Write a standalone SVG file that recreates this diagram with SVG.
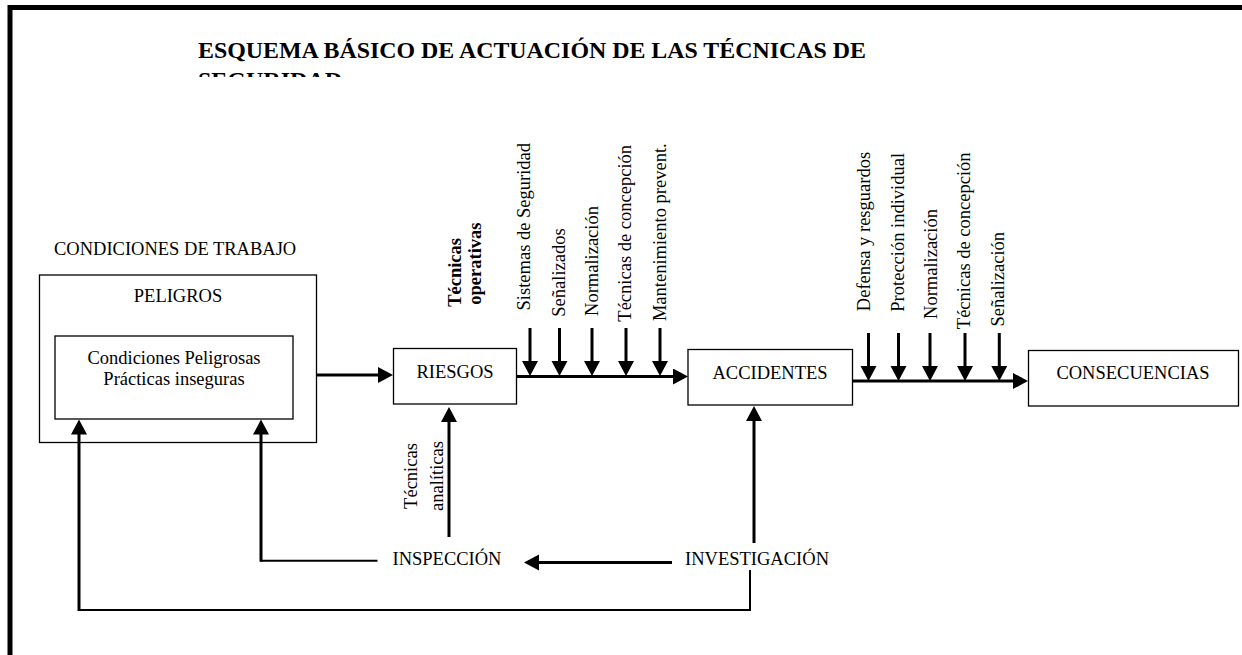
<svg xmlns="http://www.w3.org/2000/svg" width="1242" height="655" viewBox="0 0 1242 655">
<style>
text{font-family:"Liberation Serif","Times New Roman",serif;font-size:18.5px;fill:#000}
.title{font-size:24px;font-weight:bold}
.b{font-weight:bold}
.box{fill:#fff;stroke:#000;stroke-width:1.3}
.thick{stroke:#000;stroke-width:3;fill:none}
.thin{stroke:#000;stroke-width:2;fill:none}
.mid{text-anchor:middle}
</style>
<defs>
<marker id="ah" markerUnits="userSpaceOnUse" markerWidth="16" markerHeight="17" refX="10" refY="8" orient="auto">
<path d="M0,0 L15,8 L0,16 z" fill="#000"/>
</marker>
<clipPath id="tclip"><rect x="0" y="0" width="1242" height="77"/></clipPath>
</defs>
<rect width="1242" height="655" fill="#fff"/>
<path d="M10 655 V7.5 H1242" fill="none" stroke="#000" stroke-width="5"/>

<g id="title" clip-path="url(#tclip)">
<text class="title" x="198" y="58" textLength="668" lengthAdjust="spacingAndGlyphs">ESQUEMA BÁSICO DE ACTUACIÓN DE LAS TÉCNICAS DE</text>
<text class="title" x="198" y="88">SEGURIDAD</text>
</g>

<g id="condiciones">
<text x="54" y="255">CONDICIONES DE TRABAJO</text>
</g>
<g id="peligros">
<rect class="box" x="39.5" y="275" width="277" height="167.5"/>
<text class="mid" x="178" y="302">PELIGROS</text>
</g>
<g id="condiciones-peligrosas">
<rect class="box" x="55" y="336" width="238" height="83"/>
<text class="mid" x="174" y="363.5">Condiciones Peligrosas</text>
<text class="mid" x="174" y="384.5">Prácticas inseguras</text>
</g>
<g id="riesgos">
<rect class="box" x="393.5" y="348.5" width="123" height="55.5"/>
<text class="mid" x="455" y="377.5">RIESGOS</text>
</g>
<g id="accidentes">
<rect class="box" x="688" y="349.5" width="164.5" height="55.5"/>
<text class="mid" x="770" y="378.5">ACCIDENTES</text>
</g>
<g id="consecuencias">
<rect class="box" x="1028.5" y="350.5" width="210" height="55.5"/>
<text class="mid" x="1133" y="378.5">CONSECUENCIAS</text>
</g>
<g id="inspeccion">
<text x="392.5" y="565">INSPECCIÓN</text>
</g>
<g id="investigacion">
<text x="685" y="565" textLength="144" lengthAdjust="spacingAndGlyphs">INVESTIGACIÓN</text>
</g>

<g id="tecnicas-operativas">
<text class="b" text-anchor="end" transform="translate(460.5,238) rotate(-90)">Técnicas</text>
<text class="b" text-anchor="end" transform="translate(481,222.5) rotate(-90)">operativas</text>
</g>
<g id="tecnicas-analiticas">
<text class="mid" transform="translate(417,476) rotate(-90)">Técnicas</text>
<text class="mid" transform="translate(443,476) rotate(-90)">analíticas</text>
</g>
<g id="labels-riesgos">
<text class="mid" transform="translate(530.3,226.7) rotate(-90)">Sistemas de Seguridad</text>
<text class="mid" transform="translate(565.3,272.5) rotate(-90)">Señalizados</text>
<text class="mid" transform="translate(598,261) rotate(-90)">Normalización</text>
<text class="mid" transform="translate(631.3,233.3) rotate(-90)">Técnicas de concepción</text>
<text class="mid" transform="translate(666,232.2) rotate(-90)">Mantenimiento prevent.</text>
</g>
<g id="labels-accidentes">
<text class="mid" transform="translate(870.3,231.5) rotate(-90)">Defensa  y resguardos</text>
<text class="mid" transform="translate(903.7,232.3) rotate(-90)">Protección individual</text>
<text class="mid" transform="translate(937,264) rotate(-90)">Normalización</text>
<text class="mid" transform="translate(970.3,240.8) rotate(-90)">Técnicas de concepción</text>
<text class="mid" transform="translate(1003.7,279.2) rotate(-90)">Señalización</text>
</g>

<g id="connectors">
<line class="thick" x1="316.7" y1="375" x2="388" y2="375" marker-end="url(#ah)"/>
<line class="thick" x1="517" y1="376.5" x2="683" y2="376.5" marker-end="url(#ah)"/>
<line class="thick" x1="853" y1="381" x2="1023" y2="381" marker-end="url(#ah)"/>
<line class="thick" x1="530" y1="328" x2="530" y2="371" marker-end="url(#ah)"/>
<line class="thick" x1="559.5" y1="328" x2="559.5" y2="371" marker-end="url(#ah)"/>
<line class="thick" x1="592" y1="328" x2="592" y2="371" marker-end="url(#ah)"/>
<line class="thick" x1="626" y1="328" x2="626" y2="371" marker-end="url(#ah)"/>
<line class="thick" x1="660" y1="328" x2="660" y2="371" marker-end="url(#ah)"/>
<line class="thick" x1="868.5" y1="333" x2="868.5" y2="376" marker-end="url(#ah)"/>
<line class="thick" x1="898.5" y1="333" x2="898.5" y2="376" marker-end="url(#ah)"/>
<line class="thick" x1="930" y1="333" x2="930" y2="376" marker-end="url(#ah)"/>
<line class="thick" x1="965" y1="333" x2="965" y2="376" marker-end="url(#ah)"/>
<line class="thick" x1="999.3" y1="333" x2="999.3" y2="376" marker-end="url(#ah)"/>
<line class="thick" x1="449" y1="537" x2="449" y2="412" marker-end="url(#ah)"/>
<line class="thick" x1="754" y1="543" x2="754" y2="411" marker-end="url(#ah)"/>
<line class="thick" x1="672" y1="562.5" x2="529" y2="562.5" marker-end="url(#ah)"/>
<line class="thin" x1="377.5" y1="560.7" x2="260" y2="560.7"/>
<line class="thick" x1="261" y1="561.5" x2="261" y2="424.5" marker-end="url(#ah)"/>
<polyline class="thin" points="750,570 750,610 78,610"/>
<line class="thick" x1="79" y1="611" x2="79" y2="424.5" marker-end="url(#ah)"/>
</g>
</svg>
